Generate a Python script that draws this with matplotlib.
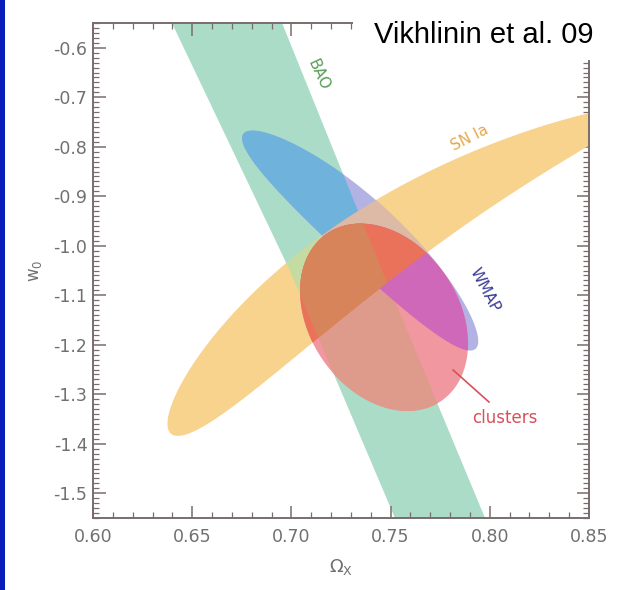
import numpy as np
import matplotlib
matplotlib.use("Agg")
import matplotlib.pyplot as plt
from matplotlib.patches import Polygon, Rectangle
from matplotlib.ticker import MultipleLocator, FormatStrFormatter

# ---------------- data (Omega_X , w0 plane) ----------------
x_ticks = [0.60, 0.65, 0.70, 0.75, 0.80, 0.85]
y_ticks = [-1.5, -1.4, -1.3, -1.2, -1.1, -1.0, -0.9, -0.8, -0.7, -0.6]

# BAO band: Omega_X edges at given w0 levels
bao_w0 = [-0.55, -1.05, -1.55]
bao_left = [0.6398, 0.6992, 0.7522]
bao_right = [0.6953, 0.7457, 0.7976]

# SN Ia contour: centre, major / minor half-axis vectors, (tilt, bend, taper)
sn_center = (0.7470, -0.9844)
sn_major = (0.1204, 0.3190)
sn_minor = (-0.01028, 0.06255)
sn_shape = (0.135, 1.027, 0.377)

# WMAP contour
wmap_center = (0.7379, -0.9765)
wmap_major = (0.0563, -0.2261)
wmap_minor = (0.01124, 0.04514)
wmap_shape = (0.19, 0.30, 0.0)

# Clusters contour: centre, sigma_x, sigma_y, correlation
cl_center = (0.7467, -1.1445)
cl_sigma = (0.04234, 0.18927)
cl_rho = -0.278

# ---------------- helpers ----------------
def contour_xy(center, major, minor, tilt=0.0, bend=0.0, taper=0.0, n=721):
    phi = np.linspace(0, 2 * np.pi, n)
    c, s = np.cos(phi), np.sin(phi)
    w = s * (1 - taper * c) + tilt * c - bend * c ** 2
    x = center[0] + major[0] * c + minor[0] * w
    y = center[1] + major[1] * c + minor[1] * w
    return np.column_stack([x, y])


def clip_polygon(subject, clipper):
    """Sutherland-Hodgman: subject polygon clipped by a convex polygon."""
    clipper = clipper[:-1] if np.allclose(clipper[0], clipper[-1]) else clipper
    area = np.sum(clipper[:, 0] * np.roll(clipper[:, 1], -1) - np.roll(clipper[:, 0], -1) * clipper[:, 1])
    sign = 1.0 if area > 0 else -1.0
    out = [tuple(p) for p in subject]
    n = len(clipper)
    for i in range(n):
        a, b = clipper[i], clipper[(i + 1) % n]
        inp, out = out, []
        if not inp:
            break

        def side(p):
            return (b[0] - a[0]) * (p[1] - a[1]) - (b[1] - a[1]) * (p[0] - a[0])

        def inter(p, q):
            d1, d2 = side(p), side(q)
            t = d1 / (d1 - d2)
            return (p[0] + t * (q[0] - p[0]), p[1] + t * (q[1] - p[1]))

        prev = inp[-1]
        for cur in inp:
            if sign * side(cur) >= 0:
                if sign * side(prev) < 0:
                    out.append(inter(prev, cur))
                out.append(cur)
            elif sign * side(prev) >= 0:
                out.append(inter(prev, cur))
            prev = cur
    return np.array(out)


fig = plt.figure(figsize=(6.36, 5.90), dpi=100)
plt.rcParams['mathtext.default'] = 'regular'
ax = fig.add_axes([0.1462, 0.1220, 0.7799, 0.8390])
ax.set_xlim(0.60, 0.85)
ax.set_ylim(-1.55, -0.55)

T = ax.transData
bao_xy = np.column_stack([np.concatenate([bao_left, bao_right[::-1]]),
                          np.concatenate([bao_w0, bao_w0[::-1]])])
sn_xy = contour_xy(sn_center, sn_major, sn_minor, *sn_shape)
wmap_xy = contour_xy(wmap_center, wmap_major, wmap_minor, *wmap_shape)
sx, sy = cl_sigma
cl_xy = contour_xy(cl_center, (sx, cl_rho * sy), (0.0, sy * np.sqrt(1 - cl_rho ** 2)))
cl_sn_xy = clip_polygon(sn_xy, cl_xy)


def add(xy, color, clip=None, z=1):
    p = Polygon(xy, closed=True, facecolor=color, edgecolor='none', zorder=z)
    ax.add_patch(p)
    if clip is not None:
        p.set_clip_path(Polygon(clip, closed=True, transform=T))
    return p


add(bao_xy, '#aadcc7', z=1)
add(sn_xy, '#f8d38e', z=2)
add(sn_xy, '#c4dba2', clip=bao_xy, z=3)
add(wmap_xy, '#b2b2e4', z=4)
add(wmap_xy, '#6fb3dd', clip=bao_xy, z=5)
add(wmap_xy, '#dcbaa6', clip=sn_xy, z=6)
add(cl_xy, '#f0979f', z=7)
add(cl_xy, '#de9a8a', clip=bao_xy, z=8)
add(cl_xy, '#cf68b8', clip=wmap_xy, z=9)
add(cl_sn_xy, '#ea725a', z=10)
add(cl_sn_xy, '#d8845a', clip=bao_xy, z=11)

# labels on the contours
ax.text(0.7134, -0.655, 'BAO', color='#5a9e5a', fontsize=11, rotation=-65,
        ha='center', va='center', rotation_mode='anchor', zorder=20)
ax.text(0.790, -0.782, 'SN Ia', color='#e6a84e', fontsize=11, rotation=27,
        ha='center', va='center', rotation_mode='anchor', zorder=20)
ax.text(0.7976, -1.089, 'WMAP', color='#3c3c96', fontsize=11, rotation=-62,
        ha='center', va='center', rotation_mode='anchor', zorder=20)
ax.text(0.8077, -1.348, 'clusters', color='#d8505a', fontsize=12,
        ha='center', va='center', zorder=20)
ax.plot([0.7815, 0.7996], [-1.251, -1.3157], color='#d8505a', lw=1.2, zorder=20)

# axes styling
spine_c = '#7a6c6c'
for sp in ax.spines.values():
    sp.set_color(spine_c)
    sp.set_linewidth(1.4)
ax.set_xticks(x_ticks)
ax.set_yticks(y_ticks)
ax.xaxis.set_minor_locator(MultipleLocator(0.01))
ax.yaxis.set_minor_locator(MultipleLocator(0.01))
ax.xaxis.set_major_formatter(FormatStrFormatter('%.2f'))
ax.yaxis.set_major_formatter(FormatStrFormatter('%.1f'))
ax.tick_params(which='both', direction='in', top=True, right=True, color=spine_c)
ax.tick_params(which='major', length=9, width=1.1, labelsize=12.5, labelcolor='#707070')
ax.tick_params(axis='x', which='major', pad=7)
ax.tick_params(axis='y', which='major', pad=4)
ax.tick_params(which='minor', length=4, width=0.9)
ax.set_xlabel(r'$\Omega_X$', color='#707070', fontsize=13, labelpad=8)
ax.set_ylabel(r'$w_0$', color='#707070', fontsize=12, labelpad=7)

# white box with citation in the top-right corner
fig.add_artist(Rectangle((353 / 636, 1 - 60 / 590), (636 - 353) / 636, 60 / 590,
                         transform=fig.transFigure, facecolor='white', edgecolor='none', zorder=5))
fig.text(374 / 636, 1 - 43 / 590, 'Vikhlinin et al. 09', fontsize=21,
         family='Liberation Sans', color='black', ha='left', va='baseline', zorder=6)
# blue strip along the left edge
fig.add_artist(Rectangle((0, 0), 5 / 636, 1, transform=fig.transFigure,
                         facecolor='#0a1cb8', edgecolor='none', zorder=5))

fig.savefig('out.png', dpi=100)
